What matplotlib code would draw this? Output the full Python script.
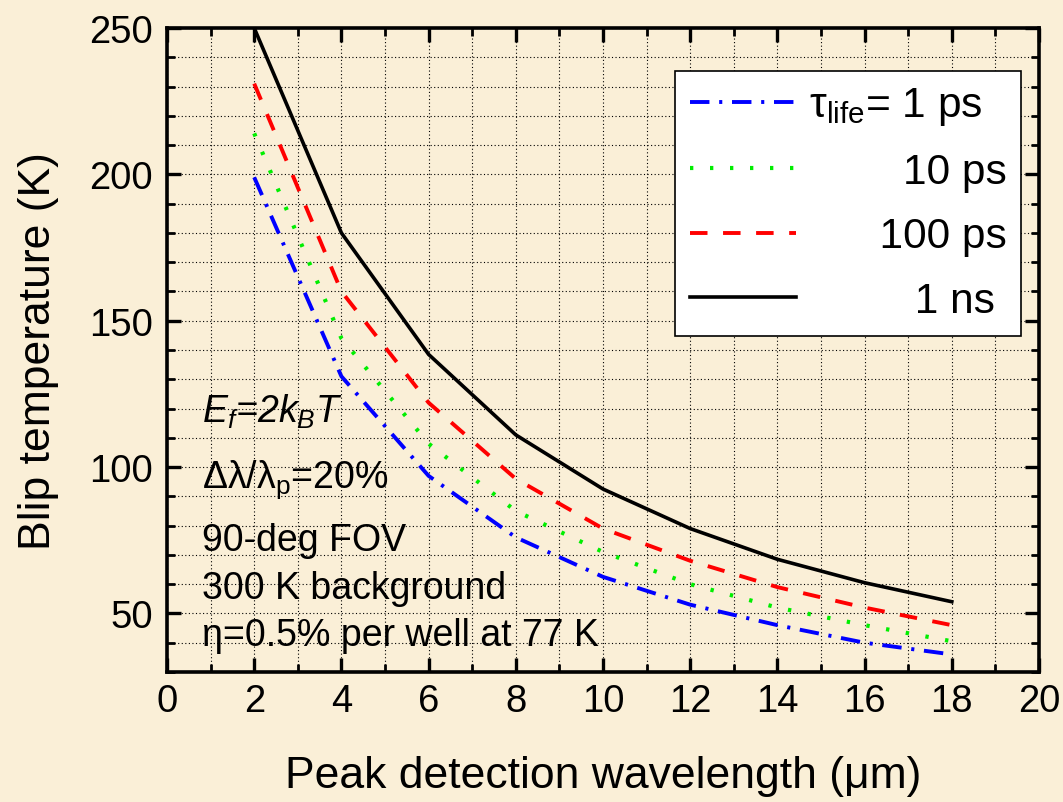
import matplotlib
matplotlib.use('Agg')
import matplotlib.pyplot as plt
from matplotlib.ticker import MultipleLocator

plt.rcParams['font.family'] = ['Liberation Sans', 'DejaVu Sans']
plt.rcParams['mathtext.fontset'] = 'custom'
plt.rcParams['mathtext.rm'] = 'Liberation Sans'
plt.rcParams['mathtext.it'] = 'Liberation Sans:italic'

# peak wavelength (um) and blip temperature (K) for each carrier lifetime
wavelength = [2, 4, 6, 8, 10, 12, 14, 16, 18]
t_1ps = [199, 131, 97, 76, 62.5, 53, 46, 40, 36]
t_10ps = [214, 144, 108, 85, 71, 60, 52, 46, 40.5]
t_100ps = [231, 160, 122, 96, 79, 68, 59, 52, 46]
t_1ns = [250, 180, 138.5, 111, 92.5, 79, 68.5, 60.5, 54]

labels = ['\u03c4$_{\\mathregular{life}}$= 1 ps', '        10 ps', '      100 ps', '         1 ns']
notes = ['$E_f$=2$k_B$$T$', '\u0394\u03bb/\u03bb$_{\\mathregular{p}}$=20%', '90-deg FOV',
         '300 K background', '\u03b7=0.5% per well at 77 K']
note_y = [0.405, 0.3, 0.205, 0.13, 0.057]

bg = '#faefd7'
fig = plt.figure(figsize=(10.63, 8.03), dpi=100, facecolor=bg)
ax = fig.add_axes([167/1063, 130/803, 872/1063, 644/803])
ax.set_facecolor(bg)

ax.plot(wavelength, t_1ps, color='#0000ff', lw=2.8, dashes=(5, 2.5, 0.8, 2.5), label=labels[0])
ax.plot(wavelength, t_10ps, color='#00ee00', lw=3.0, dashes=(0.8, 4), label=labels[1])
ax.plot(wavelength, t_100ps, color='#ff0000', lw=2.8, dashes=(4.5, 4), label=labels[2])
ax.plot(wavelength, t_1ns, color='black', lw=2.6, label=labels[3])

ax.set_xlim(0, 20)
ax.set_ylim(30, 250)
ax.xaxis.set_major_locator(MultipleLocator(2))
ax.xaxis.set_minor_locator(MultipleLocator(1))
ax.yaxis.set_major_locator(MultipleLocator(50))
ax.yaxis.set_minor_locator(MultipleLocator(10))
ax.grid(which='both', color='black', linestyle=(0, (1, 2.2)), linewidth=0.8)
ax.set_axisbelow(True)

ax.tick_params(which='both', direction='in', top=True, right=True, labelsize=27.5)
ax.tick_params(which='major', length=10, width=2.4)
ax.tick_params(which='minor', length=6, width=2.0)
ax.tick_params(axis='y', pad=10)
ax.tick_params(axis='x', pad=8)
for s in ax.spines.values():
    s.set_linewidth(2.6)

ax.set_xlabel('Peak detection wavelength (\u03bcm)', fontsize=32, labelpad=26)
ax.set_ylabel('Blip temperature (K)', fontsize=32, labelpad=22)

for t, y in zip(notes, note_y):
    ax.text(0.04, y, t, transform=ax.transAxes, fontsize=27, va='center', ha='left',
            style='italic' if t.startswith('$E') else 'normal')

leg = ax.legend(loc='upper left', bbox_to_anchor=(0.583, 0.934), borderaxespad=0,
                fontsize=30.5, frameon=True, fancybox=False, framealpha=1, edgecolor='black',
                handlelength=2.5, labelspacing=0.58, borderpad=0.35, handletextpad=0.3)
leg.get_frame().set_linewidth(1.2)

fig.savefig('out.png', dpi=100, facecolor=bg)
